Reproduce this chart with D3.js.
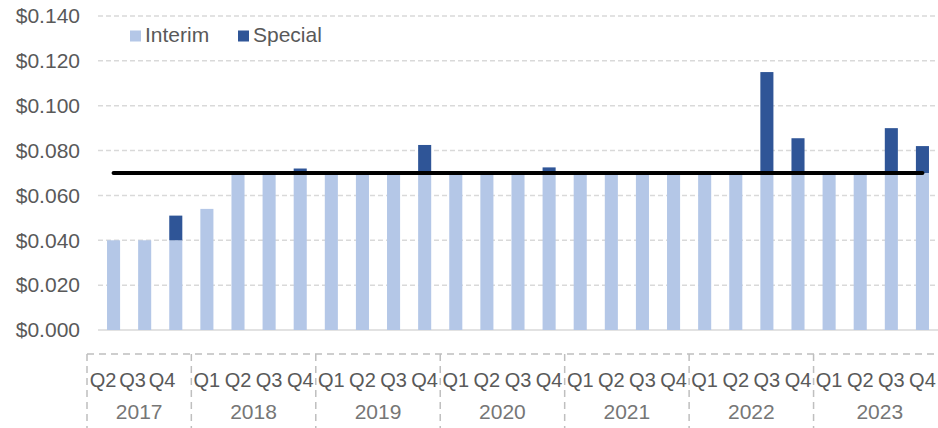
<!DOCTYPE html>
<html>
  <head>
    <meta charset="utf-8">
    <script src="https://cdn.jsdelivr.net/npm/d3@7/dist/d3.min.js"></script>
    <style type="text/css">
      body { margin: 0; background: #fff; }
      svg text { font-family: "Liberation Sans", Arial, sans-serif; }
      .grid line { stroke: #d9d9d9; stroke-width: 1.5; stroke-dasharray: 5,3; }
      .ylab { fill: #595959; font-size: 21px; }
      .qlab { fill: #595959; font-size: 20px; }
      .ylab2 { fill: #767676; font-size: 21px; }
      .cat line { stroke: #bfbfbf; stroke-width: 1.5; stroke-dasharray: 7,5; }
    </style>
  </head>
  <body>
    <div id="chart"></div>
    <script>
      // quarters per year
      var years = ["2017", "2018", "2019", "2020", "2021", "2022", "2023"];
      var quarters = [
        ["Q2", "Q3", "Q4"],
        ["Q1", "Q2", "Q3", "Q4"],
        ["Q1", "Q2", "Q3", "Q4"],
        ["Q1", "Q2", "Q3", "Q4"],
        ["Q1", "Q2", "Q3", "Q4"],
        ["Q1", "Q2", "Q3", "Q4"],
        ["Q1", "Q2", "Q3", "Q4"]
      ];
      var interim = [0.040, 0.040, 0.040,
                     0.054, 0.070, 0.070, 0.070,
                     0.070, 0.070, 0.070, 0.070,
                     0.070, 0.070, 0.070, 0.070,
                     0.070, 0.070, 0.070, 0.070,
                     0.070, 0.070, 0.070, 0.070,
                     0.070, 0.070, 0.070, 0.070];
      var special = [0, 0, 0.011,
                     0, 0, 0, 0.002,
                     0, 0, 0, 0.0125,
                     0, 0, 0, 0.0025,
                     0, 0, 0, 0,
                     0, 0, 0.045, 0.0155,
                     0, 0, 0.020, 0.012];
      var target = 0.070;
      var yTicks = [0, 0.02, 0.04, 0.06, 0.08, 0.10, 0.12, 0.14];

      var width = 938, height = 428;
      var plotLeft = 98, plotRight = 938, plotTop = 16, plotBottom = 330;

      var cats = [];
      years.forEach(function(y, i) {
        quarters[i].forEach(function(q) { cats.push(y + " " + q); });
      });

      var x = d3.scaleBand()
        .domain(cats)
        .range([plotLeft, plotRight])
        .paddingInner(0.58)
        .paddingOuter(0.29);

      var y = d3.scaleLinear()
        .domain([0, 0.14])
        .range([plotBottom, plotTop]);

      var svg = d3.select("#chart").append("svg")
        .attr("width", width)
        .attr("height", height);

      // gridlines
      svg.append("g").attr("class", "grid")
        .selectAll("line")
        .data(yTicks.slice(1)).enter()
        .append("line")
        .attr("x1", plotLeft).attr("x2", plotRight)
        .attr("y1", function(d) { return y(d); })
        .attr("y2", function(d) { return y(d); });

      svg.append("line")
        .attr("x1", plotLeft).attr("x2", plotRight)
        .attr("y1", y(0)).attr("y2", y(0))
        .attr("stroke", "#d9d9d9").attr("stroke-width", 1.5);

      // y labels
      svg.append("g").selectAll("text")
        .data(yTicks).enter()
        .append("text")
        .attr("class", "ylab")
        .attr("x", 80)
        .attr("y", function(d) { return y(d); })
        .attr("dy", "0.35em")
        .attr("text-anchor", "end")
        .text(function(d) { return "$" + d3.format(".3f")(d); });

      // bars
      var bw = x.bandwidth();
      svg.append("g").selectAll("rect")
        .data(cats).enter()
        .append("rect")
        .attr("x", function(d) { return x(d); })
        .attr("width", bw)
        .attr("y", function(d, i) { return y(interim[i]); })
        .attr("height", function(d, i) { return y(0) - y(interim[i]); })
        .attr("fill", "#b4c7e7");

      svg.append("g").selectAll("rect")
        .data(cats.filter(function(d, i) { return special[i] > 0; })).enter()
        .append("rect")
        .attr("x", function(d) { return x(d); })
        .attr("width", bw)
        .attr("y", function(d) { var i = cats.indexOf(d); return y(interim[i] + special[i]); })
        .attr("height", function(d) { var i = cats.indexOf(d); return y(interim[i]) - y(interim[i] + special[i]); })
        .attr("fill", "#2f5597");

      // target line
      var line = d3.line()
        .x(function(d) { return x(d) + bw / 2; })
        .y(function() { return y(target); });

      svg.append("path")
        .attr("d", line(cats))
        .attr("fill", "none")
        .attr("stroke", "#000")
        .attr("stroke-width", 4)
        .attr("stroke-linecap", "round");

      // legend
      var legend = svg.append("g");
      var legItems = [["Interim", "#b4c7e7", 130], ["Special", "#2f5597", 238]];
      legItems.forEach(function(it) {
        legend.append("rect")
          .attr("x", it[2]).attr("y", 30.5)
          .attr("width", 11).attr("height", 11)
          .attr("fill", it[1]);
        legend.append("text")
          .attr("class", "ylab")
          .attr("x", it[2] + 15).attr("y", 42)
          .text(it[0]);
      });

      // category axis
      var cat = svg.append("g").attr("class", "cat");
      var step = x.step();
      var boxTop = 354;
      var firstLeft = x(cats[0]) - step * x.paddingOuter() - 11;

      cat.append("line")
        .attr("x1", firstLeft).attr("x2", plotRight)
        .attr("y1", boxTop).attr("y2", boxTop);

      var k = 0;
      years.forEach(function(yr, i) {
        var n = quarters[i].length;
        var first = cats[k], last = cats[k + n - 1];
        var left = i === 0 ? firstLeft : x(first) - step * x.paddingInner() / 2;
        var right = i === years.length - 1 ? plotRight + 8 : x(last) + bw + step * x.paddingInner() / 2;

        cat.append("line")
          .attr("x1", left).attr("x2", left)
          .attr("y1", boxTop).attr("y2", height);

        quarters[i].forEach(function(q, j) {
          var cx = x(cats[k + j]) + bw / 2;
          // first group labels are packed tighter to the left
          if (i === 0) cx = left + 16 + j * 29.5;
          cat.append("text")
            .attr("class", "qlab")
            .attr("x", cx).attr("y", 387)
            .attr("text-anchor", "middle")
            .text(q);
        });

        cat.append("text")
          .attr("class", "ylab2")
          .attr("x", (left + right) / 2).attr("y", 419)
          .attr("text-anchor", "middle")
          .text(yr);

        k += n;
      });
    </script>
  </body>
</html>
